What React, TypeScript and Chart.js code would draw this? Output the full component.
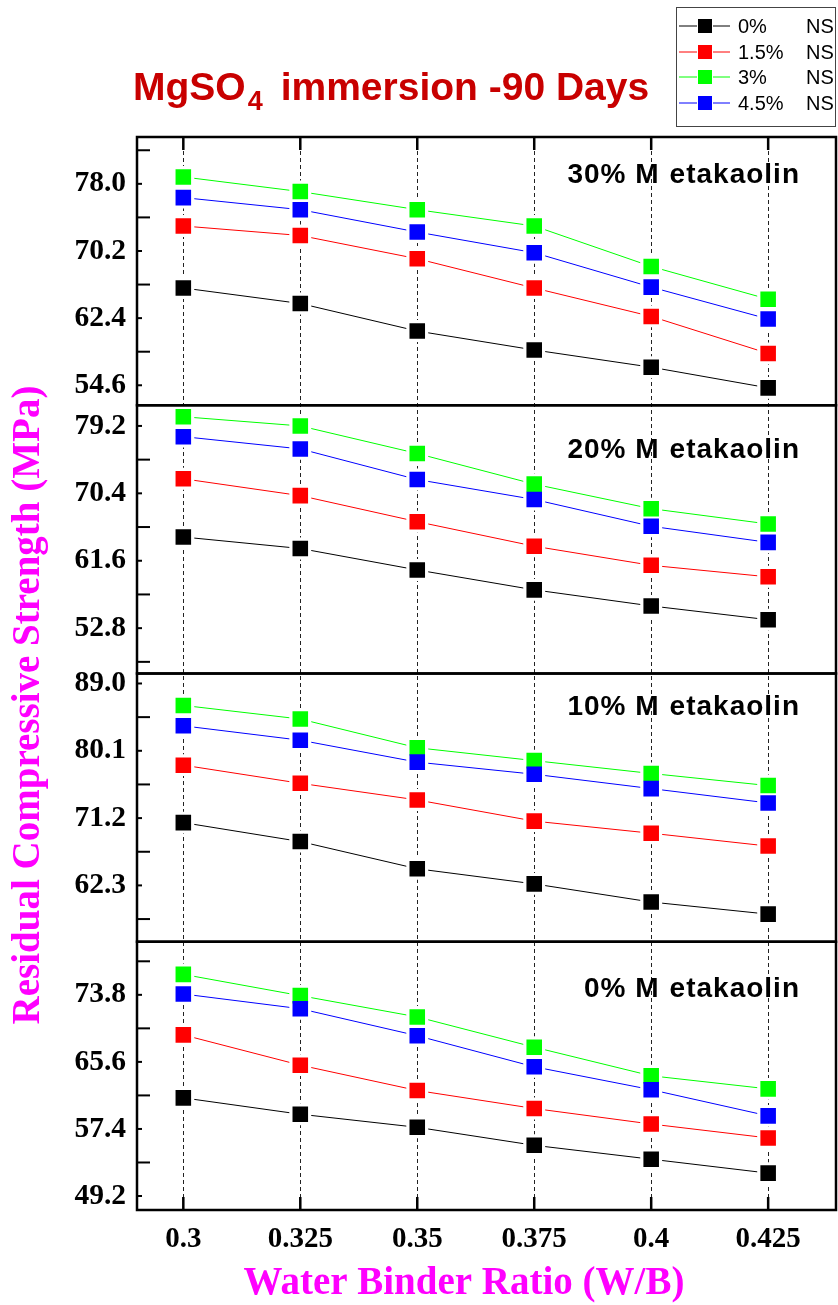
import React, { useEffect, useRef } from 'react';
import { Chart, registerables } from 'chart.js';

Chart.register(...registerables);

const W = 838;
const H = 1305;

// ---- data ----
const wbRatios = [0.3, 0.325, 0.35, 0.375, 0.4, 0.425];
const xTickLabels = ['0.3', '0.325', '0.35', '0.375', '0.4', '0.425'];
const nanoSilicaLabels = ['0%', '1.5%', '3%', '4.5%'];
const seriesColors = ['#000000', '#ff0000', '#00ff00', '#0000ff'];

// 30% Metakaolin
const mk30_ns0 = [65.9, 64.1, 60.9, 58.7, 56.7, 54.3];
const mk30_ns15 = [73.1, 72.0, 69.3, 65.9, 62.6, 58.3];
const mk30_ns3 = [78.8, 77.1, 75.0, 73.1, 68.4, 64.6];
const mk30_ns45 = [76.4, 75.0, 72.4, 70.0, 66.0, 62.3];
// 20% Metakaolin
const mk20_ns0 = [64.7, 63.2, 60.4, 57.8, 55.7, 53.9];
const mk20_ns15 = [72.3, 70.1, 66.7, 63.5, 61.0, 59.5];
const mk20_ns3 = [80.4, 79.2, 75.6, 71.6, 68.4, 66.4];
const mk20_ns45 = [77.8, 76.2, 72.2, 69.6, 66.1, 64.0];
// 10% Metakaolin
const mk10_ns0 = [70.6, 68.1, 64.5, 62.5, 60.1, 58.5];
const mk10_ns15 = [78.2, 75.8, 73.6, 70.8, 69.2, 67.5];
const mk10_ns3 = [86.1, 84.3, 80.5, 78.8, 77.1, 75.5];
const mk10_ns45 = [83.4, 81.5, 78.6, 77.0, 75.1, 73.2];
// 0% Metakaolin
const mk0_ns0 = [61.2, 59.2, 57.6, 55.4, 53.7, 52.0];
const mk0_ns15 = [68.9, 65.2, 62.1, 59.9, 58.0, 56.3];
const mk0_ns3 = [76.3, 73.7, 71.1, 67.4, 63.9, 62.3];
const mk0_ns45 = [73.9, 72.1, 68.8, 65.0, 62.2, 59.0];

// y tick labels (major) and axis ranges per panel
const yTicksMK30 = [54.6, 62.4, 70.2, 78.0];
const yTicksMK20 = [52.8, 61.6, 70.4, 79.2];
const yTicksMK10 = [62.3, 71.2, 80.1, 89.0];
const yTicksMK0 = [49.2, 57.4, 65.6, 73.8];
const yRangeMK30 = [52.28, 83.44];
const yRangeMK20 = [46.88, 81.9];
const yRangeMK10 = [54.85, 90.32];
const yRangeMK0 = [47.49, 80.29];

const panels = [
  { id: 'yMK30', title: '30% M', title2: 'etakaolin', series: [mk30_ns0, mk30_ns15, mk30_ns3, mk30_ns45], majors: yTicksMK30, range: yRangeMK30, labelDy: 46 },
  { id: 'yMK20', title: '20% M', title2: 'etakaolin', series: [mk20_ns0, mk20_ns15, mk20_ns3, mk20_ns45], majors: yTicksMK20, range: yRangeMK20, labelDy: 53 },
  { id: 'yMK10', title: '10% M', title2: 'etakaolin', series: [mk10_ns0, mk10_ns15, mk10_ns3, mk10_ns45], majors: yTicksMK10, range: yRangeMK10, labelDy: 41 },
  { id: 'yMK0', title: '0% M', title2: 'etakaolin', series: [mk0_ns0, mk0_ns15, mk0_ns3, mk0_ns45], majors: yTicksMK0, range: yRangeMK0, labelDy: 55 },
];

const SERIF = "'Liberation Serif', 'Times New Roman', serif";
const SANS = "'Liberation Sans', Arial, sans-serif";

function allTicks(majors: number[], range: number[]) {
  const step = majors[1] - majors[0];
  const out: number[] = [...majors];
  const cand = [majors[0] - step / 2, ...majors.map((m) => m + step / 2)];
  cand.forEach((c) => {
    const v = Number(c.toFixed(2));
    if (v >= range[0] && v <= range[1]) out.push(v);
  });
  return out.sort((a, b) => a - b);
}

const decorPlugin = {
  id: 'decor',
  afterDraw(chart: any) {
    const ctx = chart.ctx as CanvasRenderingContext2D;
    const ca = chart.chartArea;
    const xs = chart.scales.x;
    ctx.save();
    ctx.strokeStyle = '#000';
    ctx.fillStyle = '#000';

    panels.forEach((p) => {
      const ys = chart.scales[p.id];
      // frame
      ctx.lineWidth = 2.5;
      ctx.strokeRect(ca.left, ys.top, ca.right - ca.left, ys.bottom - ys.top);
      // inward y ticks
      ctx.lineWidth = 2;
      ys.ticks.forEach((t: any) => {
        const y = ys.getPixelForValue(t.value);
        const len = p.majors.includes(t.value) ? 5 : 13;
        ctx.beginPath();
        ctx.moveTo(ca.left, y);
        ctx.lineTo(ca.left + len, y);
        ctx.stroke();
      });
      // panel label
      ctx.font = `bold 28px ${SANS}`;
      (ctx as any).letterSpacing = '1px';
      ctx.textAlign = 'left';
      ctx.textBaseline = 'alphabetic';
      const w1 = ctx.measureText(p.title).width;
      const w2 = ctx.measureText(p.title2).width;
      const gap = 10;
      const right = 800;
      const x0 = right - (w1 + gap + w2);
      const by = ys.top + p.labelDy;
      ctx.fillText(p.title, x0, by);
      ctx.fillText(p.title2, x0 + w1 + gap, by);
      (ctx as any).letterSpacing = '0px';
    });

    // x ticks (top of first panel, bottom of last panel)
    ctx.lineWidth = 2.5;
    wbRatios.forEach((v) => {
      const x = xs.getPixelForValue(v);
      ctx.beginPath();
      ctx.moveTo(x, ca.top);
      ctx.lineTo(x, ca.top + 13);
      ctx.moveTo(x, ca.bottom);
      ctx.lineTo(x, ca.bottom - 13);
      ctx.stroke();
    });

    // chart title with subscript
    ctx.fillStyle = '#c80000';
    ctx.textAlign = 'left';
    ctx.textBaseline = 'alphabetic';
    ctx.font = `bold 39px ${SANS}`;
    const tx = 133;
    const ty = 100;
    ctx.fillText('MgSO', tx, ty);
    const wMg = ctx.measureText('MgSO').width;
    ctx.font = `bold 27px ${SANS}`;
    ctx.fillText('4', tx + wMg + 2, 110);
    const w4 = ctx.measureText('4').width;
    ctx.font = `bold 39px ${SANS}`;
    ctx.fillText('immersion -90 Days', tx + wMg + 2 + w4 + 18, ty);

    // axis titles
    ctx.fillStyle = '#ff00ff';
    ctx.font = `bold 39px ${SERIF}`;
    ctx.textAlign = 'center';
    ctx.textBaseline = 'middle';
    ctx.fillText('Water Binder Ratio (W/B)', 464, 1284);
    ctx.save();
    ctx.translate(29, 705);
    ctx.rotate(-Math.PI / 2);
    ctx.fillText('Residual Compressive Strength (MPa)', 0, 0);
    ctx.restore();

    // legend
    const lx = 676.5, ly = 7.5, lw = 159, lh = 119;
    ctx.fillStyle = '#fff';
    ctx.fillRect(lx, ly, lw, lh);
    ctx.strokeStyle = '#444';
    ctx.lineWidth = 1;
    ctx.strokeRect(lx, ly, lw, lh);
    const rows = [26, 52, 77, 103];
    ctx.font = `20px ${SANS}`;
    ctx.textAlign = 'left';
    ctx.textBaseline = 'middle';
    nanoSilicaLabels.forEach((lab, i) => {
      const y = rows[i];
      ctx.strokeStyle = seriesColors[i];
      ctx.lineWidth = 1;
      ctx.beginPath();
      ctx.moveTo(679, y);
      ctx.lineTo(697, y);
      ctx.moveTo(713, y);
      ctx.lineTo(730, y);
      ctx.stroke();
      ctx.fillStyle = seriesColors[i];
      ctx.fillRect(698, y - 7, 14, 14);
      ctx.fillStyle = '#000';
      ctx.fillText(lab, 738, y + 1);
      ctx.fillText('NS', 806, y + 1);
    });

    ctx.restore();
  },
};

function buildDatasets() {
  const ds: any[] = [];
  panels.forEach((p) => {
    p.series.forEach((vals, s) => {
      const data = wbRatios.map((x, i) => ({ x, y: vals[i] }));
      const label = `${nanoSilicaLabels[s]} NS`;
      ds.push({
        label,
        data,
        yAxisID: p.id,
        borderColor: seriesColors[s],
        borderWidth: 1,
        pointRadius: 0,
        showLine: true,
        fill: false,
        tension: 0,
        order: 20,
      });
      ds.push({
        label: label + ' halo',
        data,
        yAxisID: p.id,
        showLine: false,
        pointStyle: 'rect',
        pointRadius: 15.5,
        pointBackgroundColor: '#ffffff',
        pointBorderWidth: 0,
        order: 10,
      });
      ds.push({
        label: label + ' marker',
        data,
        yAxisID: p.id,
        showLine: false,
        pointStyle: 'rect',
        pointRadius: 11,
        pointBackgroundColor: seriesColors[s],
        pointBorderWidth: 0,
        order: 4 - s,
      });
    });
  });
  return ds;
}

function buildScales() {
  const scales: any = {
    x: {
      type: 'linear',
      position: 'bottom',
      min: 0.2901,
      max: 0.4395,
      afterBuildTicks: (s: any) => {
        s.ticks = wbRatios.map((v) => ({ value: v }));
      },
      afterFit: (s: any) => {
        s.height = 95;
        s.paddingLeft = 0;
        s.paddingRight = 0;
      },
      ticks: {
        autoSkip: false,
        maxRotation: 0,
        padding: 12,
        color: '#000',
        font: { family: SERIF, size: 29, weight: 'bold' },
        callback: (v: number) => {
          const i = wbRatios.indexOf(v);
          return i >= 0 ? xTickLabels[i] : '';
        },
      },
      grid: { display: true, drawOnChartArea: true, drawTicks: false, color: '#222', lineWidth: 1 },
      border: { display: false, dash: [4, 3] },
    },
  };
  panels.forEach((p, idx) => {
    const ticks = allTicks(p.majors, p.range);
    scales[p.id] = {
      type: 'linear',
      position: 'left',
      stack: 'mk',
      stackWeight: 1,
      weight: 10 - idx,
      min: p.range[0],
      max: p.range[1],
      afterBuildTicks: (s: any) => {
        s.ticks = ticks.map((v) => ({ value: v }));
      },
      afterFit: (s: any) => {
        s.width = 137;
        s.paddingTop = 0;
        s.paddingBottom = 0;
      },
      ticks: {
        autoSkip: false,
        padding: 11,
        color: '#000',
        font: { family: SERIF, size: 29.5, weight: 'bold' },
        callback: (v: number) => (p.majors.includes(v) ? v.toFixed(1) : ''),
      },
      grid: { display: false, drawTicks: false },
      border: { display: false },
    };
  });
  return scales;
}

export default function App() {
  const ref = useRef<HTMLCanvasElement>(null);
  useEffect(() => {
    const canvas = ref.current;
    if (!canvas) return;
    const chart = new Chart(canvas, {
      type: 'line',
      data: { datasets: buildDatasets() },
      options: {
        responsive: false,
        animation: false,
        devicePixelRatio: 1,
        events: [],
        layout: { autoPadding: false, padding: { top: 137, right: 2, bottom: 0, left: 0 } },
        scales: buildScales(),
        plugins: {
          legend: { display: false },
          tooltip: { enabled: false },
          title: { display: false },
        },
      },
      plugins: [decorPlugin],
    } as any);
    return () => chart.destroy();
  }, []);
  return (
    <div style={{ position: 'absolute', left: 0, top: 0, width: W, height: H, background: '#fff' }}>
      <canvas ref={ref} width={W} height={H} style={{ display: 'block', width: W, height: H }} />
    </div>
  );
}
